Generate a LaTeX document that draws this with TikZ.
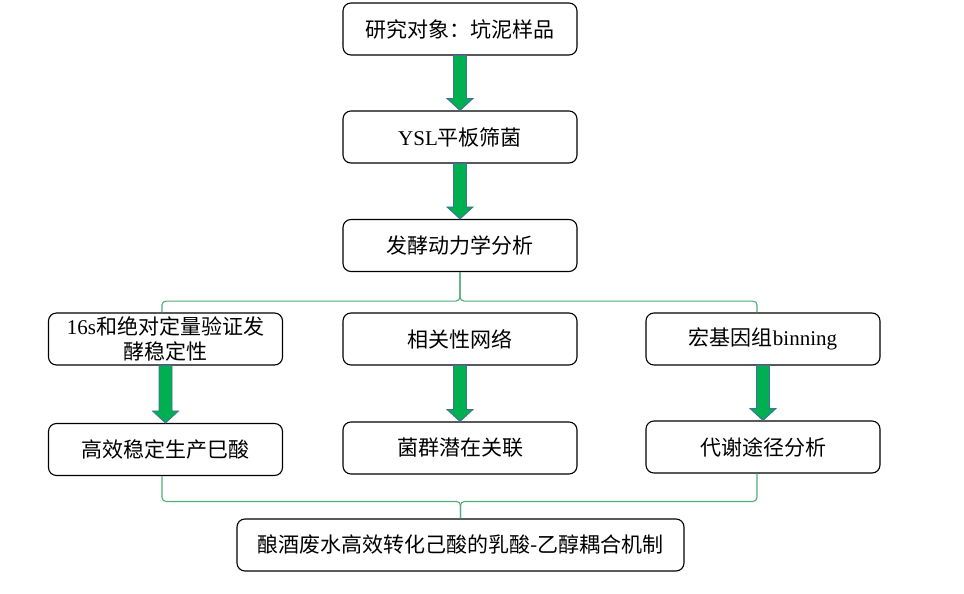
\documentclass[tikz,border=0pt]{standalone}
\usepackage{fontspec}
\setmainfont{Noto Sans CJK SC}
\newfontfamily\lat{Liberation Serif}
\usepackage{tikz}
\usetikzlibrary{calc,positioning}
\definecolor{pfeilgruen}{RGB}{0,176,80}
\definecolor{pfeilblau}{RGB}{65,113,156}
\definecolor{klammergruen}{RGB}{82,172,122}
\tikzset{
  kasten/.style={rectangle, rounded corners=8pt, draw=black, line width=1.1pt, fill=white,
                 minimum width=234pt, minimum height=52pt, inner sep=0pt, align=center,
                 font=\fontsize{21}{25}\selectfont},
  pfeil/.style={draw=pfeilblau, fill=pfeilgruen, line width=0.9pt,
                to path={let \p1=(\tikztostart), \p2=(\tikztotarget) in
                  (\x1-6.5pt,\y1) -- (\x1+6.5pt,\y1) -- (\x1+6.5pt,\y2+12pt) -- (\x1+13pt,\y2+12pt)
                  -- (\x1,\y2) -- (\x1-13pt,\y2+12pt) -- (\x1-6.5pt,\y2+12pt) -- cycle}},
  klammer/.style={draw=klammergruen, line width=1.1pt, rounded corners=4pt}
}

\begin{document}
\begin{tikzpicture}[x=1pt,y=-1pt]
    \useasboundingbox (0,0) rectangle (964,594);

      % First the main chain of steps.
      \node[kasten] (objekt) at (460,29) {研究对象：坑泥样品};
      \node[kasten] (platte) at (460,137) {{\lat YSL}平板筛菌};
      \node[kasten] (kinetik) at (460,245.5) {发酵动力学分析};

      % Three branches and their results.
      \node[kasten] (quant) at (165.5,339) {{\lat 16s}和绝对定量验证发\\酵稳定性};
      \node[kasten] (netz) at (460,339) {相关性网络};
      \node[kasten] (binning) at (763,339) {宏基因组{\lat binning}};
      \node[kasten] (capron) at (165.5,449.5) {高效稳定生产巳酸};
      \node[kasten] (assoz) at (460,448) {菌群潜在关联};
      \node[kasten] (stoff) at (763,447) {代谢途径分析};

      % Final conclusion.
      \node[kasten, minimum width=447pt] (mechanismus) at (460.5,545) {酿酒废水高效转化己酸的乳酸-乙醇耦合机制};

      % Block arrows between steps.
      \draw[pfeil] (objekt.south) to (platte.north);
      \draw[pfeil] (platte.south) to (kinetik.north);
      \draw[pfeil] (quant.south) to (capron.north);
      \draw[pfeil] (netz.south) to (assoz.north);
      \draw[pfeil] (binning.south) to (stoff.north);

      % Upper brace splitting into the branches.
      \coordinate (oben links) at ($(quant.north)+(-3.5,0)$);
      \coordinate (oben rechts) at ($(binning.north)+(-6,0)$);
      \draw[klammer] (oben links) |- ($(kinetik.south)+(0,29)$) -- (kinetik.south);
      \draw[klammer] (oben rechts) |- ($(kinetik.south)+(0,29)$) -- (kinetik.south);

      % Lower brace joining the results.
      \coordinate (unten links) at ($(capron.south)+(-3.5,0)$);
      \coordinate (unten rechts) at ($(stoff.south)+(-6,0)$);
      \draw[klammer] (unten links) |- ($(mechanismus.north)+(0,-17)$) -- (mechanismus.north);
      \draw[klammer] (unten rechts) |- ($(mechanismus.north)+(0,-17)$) -- (mechanismus.north);
    \end{tikzpicture}
\end{document}
